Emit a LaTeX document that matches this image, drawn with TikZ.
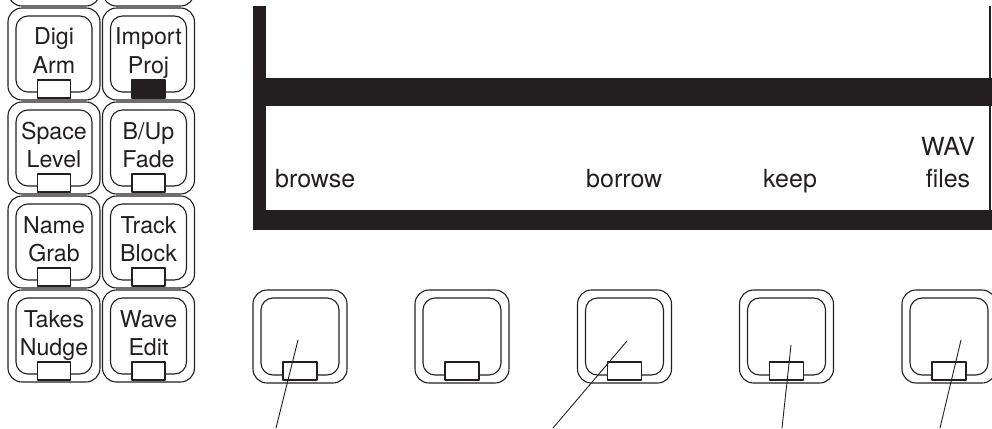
\documentclass[tikz,border=0pt]{standalone}
\usepackage{fontspec}
\setmainfont{TeX Gyre Heros}
\definecolor{ink}{RGB}{35,31,32}
\tikzset{
	keyout/.style={draw=ink, line width=1.1pt, rounded corners=14pt, inner sep=0pt},
	keyin/.style={draw=ink, line width=1.1pt, rounded corners=12pt, inner sep=0pt},
	lamp/.style={draw=ink, line width=1.1pt, inner sep=0pt, minimum width=34pt, minimum height=18pt},
	keytext/.style={anchor=base, inner sep=0pt, text=ink, font=\fontsize{23.2}{27}\selectfont},
	softtext/.style={anchor=base, inner sep=0pt, text=ink, font=\fontsize{25}{30}\selectfont},
	lead/.style={draw=ink, line width=0.9pt},
}
\begin{document}
\begin{tikzpicture}[x=1pt, y=-1pt, line join=round, line cap=round]
	\useasboundingbox (0,0) rectangle (992,428);
	\clip (0,0) rectangle (992,428);

	\foreach \cx/\nm in {54/topa, 148.5/topb}
		\node[keyout, minimum width=92pt, minimum height=92pt] (\nm) at (\cx,-40) {};

	\foreach \cx/\ty/\nm/\la/\lb/\lit in {54/8/digi/Digi/Arm/white, 148.5/8/import/Import/Proj/ink,
			54/102/space/Space/Level/white, 148.5/102/bup/B\slash Up/Fade/white,
			54/196/name/Name/Grab/white, 148.5/196/track/Track/Block/white,
			54/290/takes/Takes/Nudge/white, 148.5/290/wave/Wave/Edit/white} {
		\node[keyout, minimum width=92pt, minimum height=92pt] (\nm) at (\cx,{\ty+46}) {};
		\node[keyin, minimum width=76pt, minimum height=76pt] (\nm-in) at (\cx,{\ty+46}) {};
		\node[lamp, minimum width=33pt, fill=\lit] (\nm-lamp) at (\cx,{\ty+81}) {};
		\node[keytext] (\nm-a) at (\cx,{\ty+37}) {\la};
		\node[keytext] (\nm-b) at (\cx,{\ty+65}) {\lb};
	}

	\fill[ink] (253,6) rectangle (266,230);
	\fill[ink] (253,78) rectangle (992,106);
	\fill[ink] (253,210) rectangle (992,230);
	\fill[ink] (989,6) rectangle (991,210);

	\node[softtext, anchor=base west] (browse) at (275,187) {browse};
	\node[softtext, anchor=base west] (borrow) at (586,187) {borrow};
	\node[softtext, anchor=base west] (keep) at (763,187) {keep};
	\node[softtext] (wav) at (948,155) {WAV};
	\node[softtext] (files) at (948,187) {files};

	\foreach \i/\cx in {1/300, 2/462, 3/624.5, 4/786.5, 5/949} {
		\node[keyout, minimum width=94pt, minimum height=93pt] (soft\i) at (\cx,336.5) {};
		\node[keyin, minimum width=78pt, minimum height=77pt] (soft\i-in) at (\cx,336.5) {};
		\node[lamp, fill=white] (soft\i-lamp) at (\cx,371) {};
	}

	\foreach \i/\tx/\ty/\fx in {1/298/340/276, 3/627/341/553, 4/791/345/782, 5/961/340/940} {
		\coordinate (tip\i) at (\tx,\ty);
		\coordinate (foot\i) at (\fx,428);
		\draw[lead] (tip\i) -- (foot\i);
	}
\end{tikzpicture}
\end{document}
